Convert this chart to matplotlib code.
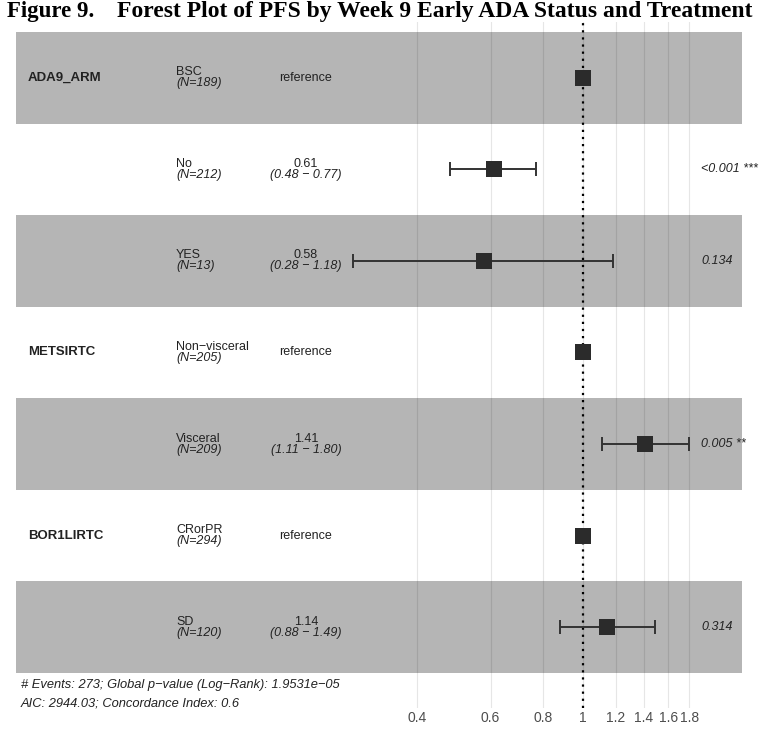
import numpy as np
import matplotlib
matplotlib.use('Agg')
import matplotlib.pyplot as plt
from matplotlib.transforms import blended_transform_factory

# hazard ratios from the Cox model, one entry per level
variables = ['ADA9_ARM', '', '', 'METSIRTC', '', 'BOR1LIRTC', '']
levels = ['BSC', 'No', 'YES', 'Non\u2212visceral', 'Visceral', 'CRorPR', 'SD']
n_obs = [189, 212, 13, 205, 209, 294, 120]
hr = [1.0, 0.61, 0.58, 1.0, 1.41, 1.0, 1.14]
ci_low = [np.nan, 0.48, 0.28, np.nan, 1.11, np.nan, 0.88]
ci_high = [np.nan, 0.77, 1.18, np.nan, 1.80, np.nan, 1.49]
is_ref = [True, False, False, True, False, True, False]
p_labels = ['', '<0.001 ***', '0.134', '', '0.005 **', '', '0.314']
ticks = [0.4, 0.6, 0.8, 1, 1.2, 1.4, 1.6, 1.8]
tick_labels = ['0.4', '0.6', '0.8', '1', '1.2', '1.4', '1.6', '1.8']

footnote = ['# Events: 273; Global p\u2212value (Log\u2212Rank): 1.9531e\u221205',
            'AIC: 2944.03; Concordance Index: 0.6']

W, H = 759, 730
XLIM = (0.0399, 2.644)       # log scale, whole figure width
BAND = (0.0436, 2.407)       # extent of the shaded rows
SANS = 'Liberation Sans'
INK = '#222222'
FS = 9

fig = plt.figure(figsize=(W / 100, H / 100), dpi=100)
ax = fig.add_axes([0, (H - 708) / H, 1, (708 - 22) / H])
ax.set_xscale('log')
ax.set_xlim(*XLIM)
nrow = len(levels)
ax.set_ylim(nrow + 0.5 + 35 / 91.57, 0.5 - 10 / 91.57)
for sp in ax.spines.values():
    sp.set_visible(False)

# grid first, then translucent bands over it
for t in ticks:
    ax.axvline(t, color='#e6e6e6', lw=0.8, zorder=0)
rows = np.arange(1, nrow + 1)
for r in rows:
    if r % 2 == 1:
        ax.fill_between(BAND, r - 0.5, r + 0.5, color='black', alpha=0.29,
                        lw=0, zorder=1)

ax.axvline(1, color='black', lw=1.6, linestyle=(0, (1, 2.2)), zorder=2)

est = np.array(hr)
lo = np.array(ci_low)
hi = np.array(ci_high)
has_ci = ~np.isnan(lo)
ax.errorbar(est[has_ci], rows[has_ci],
            xerr=[est[has_ci] - lo[has_ci], hi[has_ci] - est[has_ci]],
            fmt='none', ecolor='#333333', elinewidth=1.4, capsize=5,
            capthick=1.4, zorder=3)
ax.scatter(est, rows, marker='s', s=118, color='#2b2b2b', lw=0, zorder=4)

tr = blended_transform_factory(ax.transAxes, ax.transData)
dy = 5.5 / 91.57
for r, var, lev, n, ref, e, l, h, p in zip(rows, variables, levels, n_obs, is_ref,
                                         hr, ci_low, ci_high, p_labels):
    if var:
        ax.text(28 / W, r, var, transform=tr, ha='left', va='center',
                fontsize=9.5, fontweight='bold', family=SANS, color=INK)
    ax.text(176 / W, r - dy, lev, transform=tr, ha='left', va='center',
            fontsize=FS, family=SANS, color=INK)
    ax.text(176 / W, r + dy, f'(N={n})', transform=tr, ha='left', va='center',
            fontsize=FS, family=SANS, style='italic', color=INK)
    if ref:
        ax.text(306 / W, r, 'reference', transform=tr, ha='center', va='center',
                fontsize=FS, family=SANS, color=INK)
    else:
        ax.text(306 / W, r - dy, f'{e:.2f}', transform=tr, ha='center',
                va='center', fontsize=FS, family=SANS, color=INK)
        ax.text(306 / W, r + dy, f'({l:.2f} \u2212 {h:.2f})', transform=tr,
                ha='center', va='center', fontsize=FS, family=SANS,
                style='italic', color=INK)
    if p:
        ax.text(701 / W, r, p, transform=tr, ha='left', va='center',
                fontsize=FS, family=SANS, style='italic', color=INK)

ax.set_yticks([])
ax.set_xticks(ticks)
ax.set_xticklabels(tick_labels, fontsize=10, family=SANS, color='#4d4d4d')
ax.xaxis.set_minor_locator(matplotlib.ticker.NullLocator())
ax.tick_params(axis='x', length=0, pad=2)

for i, line in enumerate(footnote):
    fig.text(21 / W, 1 - (685 + 18 * i) / H, line, ha='left', va='center',
             fontsize=9.3, family=SANS, style='italic', color=INK)

fig.text(7 / W, 1 - 12 / H, 'Figure 9.', ha='left', va='center',
         fontsize=16.5, fontweight='bold', family='Liberation Serif')
fig.text(117 / W, 1 - 12 / H,
         'Forest Plot of PFS by Week 9 Early ADA Status and Treatment',
         ha='left', va='center', fontsize=17, fontweight='bold',
         family='Liberation Serif')

fig.savefig('out.png', dpi=100)
